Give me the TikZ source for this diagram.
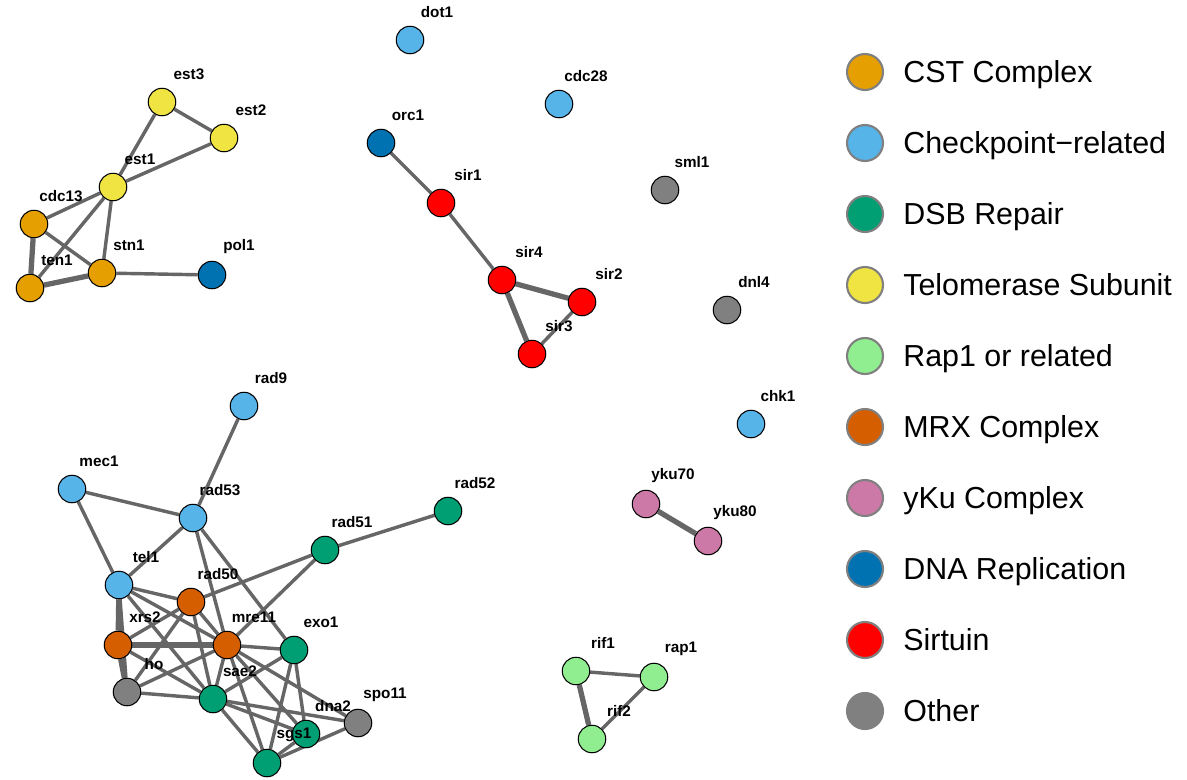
\documentclass[tikz,border=0pt]{standalone}
\usepackage{fontspec}
\setmainfont{Liberation Sans}
\usetikzlibrary{backgrounds}

\definecolor{cstcol}{HTML}{E69F00}
\definecolor{chkcol}{HTML}{56B4E9}
\definecolor{dsbcol}{HTML}{009E73}
\definecolor{telcol}{HTML}{F0E442}
\definecolor{rapcol}{HTML}{90EE90}
\definecolor{mrxcol}{HTML}{D55E00}
\definecolor{kucol}{HTML}{CC79A7}
\definecolor{repcol}{HTML}{0072B2}
\definecolor{sircol}{HTML}{FF0000}
\definecolor{othcol}{HTML}{808080}
\definecolor{edgecol}{HTML}{666666}

\begin{document}
\begin{tikzpicture}[
    x=0.02cm, y=-0.02cm,
    gene/.style={circle, draw=black, line width=0.6pt, minimum size=0.55cm, inner sep=0pt},
    cst/.style={gene, fill=cstcol},
    chk/.style={gene, fill=chkcol},
    dsb/.style={gene, fill=dsbcol},
    tel/.style={gene, fill=telcol},
    rap/.style={gene, fill=rapcol},
    mrx/.style={gene, fill=mrxcol},
    ku/.style={gene, fill=kucol},
    rep/.style={gene, fill=repcol},
    sir/.style={gene, fill=sircol},
    oth/.style={gene, fill=othcol},
    lbl/.style={font=\fontsize{8.7}{10}\selectfont\bfseries, inner sep=0pt},
    edge/.style={draw=edgecol, line width=1.95pt},
    heavy/.style={edge, line width=3pt},
    legdot/.style={circle, draw=gray, line width=1.2pt, minimum size=0.72cm, inner sep=0pt},
    legtext/.style={anchor=base west, font=\fontsize{17.3}{20}\selectfont, inner sep=0pt}
]
    \useasboundingbox (0,0) rectangle (1187,779);

    % Telomerase / CST
    \node[tel] (est3) at (162,102) {};
    \node[tel] (est2) at (224,138) {};
    \node[tel] (est1) at (113,187) {};
    \node[cst] (cdc13) at (34,224) {};
    \node[cst] (ten1) at (30,288) {};
    \node[cst] (stn1) at (102,273) {};
    \node[rep] (pol1) at (212,275) {};

    % Sirtuins
    \node[chk] (dot1) at (410,40) {};
    \node[chk] (cdc28) at (559,104) {};
    \node[rep] (orc1) at (381,143) {};
    \node[sir] (sir1) at (441,203) {};
    \node[sir] (sir4) at (502,280) {};
    \node[sir] (sir2) at (582,302) {};
    \node[sir] (sir3) at (532,354) {};

    % Single genes
    \node[oth] (sml1) at (665,190) {};
    \node[oth] (dnl4) at (727,310) {};
    \node[chk] (chk1) at (751,424) {};

    % yKu and Rap1
    \node[ku] (yku70) at (646,504) {};
    \node[ku] (yku80) at (708,541) {};
    \node[rap] (rif1) at (576,671) {};
    \node[rap] (rap1) at (654,677) {};
    \node[rap] (rif2) at (592,739) {};

    % DSB cluster
    \node[chk] (rad9) at (244,406) {};
    \node[chk] (mec1) at (72,489) {};
    \node[chk] (rad53) at (193,518) {};
    \node[dsb] (rad52) at (448,511) {};
    \node[dsb] (rad51) at (325,550) {};
    \node[chk] (tel1) at (119,585) {};
    \node[mrx] (rad50) at (191,602) {};
    \node[mrx] (xrs2) at (118,645) {};
    \node[mrx] (mre11) at (227,645) {};
    \node[dsb] (exo1) at (294,650) {};
    \node[oth] (ho) at (127,692) {};
    \node[dsb] (sae2) at (213,699) {};
    \node[oth] (spo11) at (358,723) {};
    \node[dsb] (dna2) at (306,734) {};
    \node[dsb] (sgs1) at (267,763) {};

    % Labels
    \foreach \g in {est3,est2,est1,cdc13,ten1,stn1,pol1,dot1,cdc28,orc1,sir1,sir4,sir2,sir3,sml1,dnl4,chk1,yku70,yku80,rif1,rap1,rif2,rad9,mec1,rad53,rad52,rad51,tel1,rad50,xrs2,mre11,exo1,ho,sae2,spo11,dna2,sgs1}
        \node[lbl] (\g-l) at ([shift={(27,-28)}]\g) {\g};

    \begin{scope}[on background layer]
    \fill[white] (0,0) rectangle (1187,779);
    % Edges telomerase
    \draw[edge] (est3) -- (est2);
    \draw[edge] (est3) -- (est1);
    \draw[edge] (est2) -- (est1);
    \draw[edge] (est1) -- (cdc13);
    \draw[edge] (est1) -- (ten1);
    \draw[edge] (est1) -- (stn1);
    \draw[heavy] (cdc13) -- (ten1);
    \draw[edge] (cdc13) -- (stn1);
    \draw[heavy] (ten1) -- (stn1);
    \draw[edge] (stn1) -- (pol1);

    % Edges sirtuins
    \draw[edge] (orc1) -- (sir1);
    \draw[edge] (sir1) -- (sir4);
    \draw[heavy] (sir4) -- (sir2);
    \draw[heavy] (sir4) -- (sir3);
    \draw[edge] (sir2) -- (sir3);

    % Edges yKu and Rap1
    \draw[heavy] (yku70) -- (yku80);
    \draw[edge] (rif1) -- (rap1);
    \draw[heavy] (rif1) -- (rif2);
    \draw[edge] (rap1) -- (rif2);

    % Edges DSB cluster
    \draw[edge] (rad9) -- (rad53);
    \draw[edge] (mec1) -- (rad53);
    \draw[edge] (mec1) -- (tel1);
    \draw[edge] (rad53) -- (tel1);
    \draw[edge] (rad53) -- (mre11);
    \draw[edge] (rad53) -- (exo1);
    \draw[edge] (rad51) -- (rad52);
    \draw[edge] (rad51) -- (rad50);
    \draw[edge] (rad51) -- (mre11);
    \draw[edge] (tel1) -- (rad50);
    \draw[heavy] (tel1) -- (xrs2);
    \draw[edge] (tel1) -- (ho);
    \draw[edge] (tel1) -- (mre11);
    \draw[edge] (tel1) -- (sae2);
    \draw[edge] (xrs2) -- (rad50);
    \draw[heavy] (xrs2) -- (mre11);
    \draw[heavy] (xrs2) -- (ho);
    \draw[edge] (xrs2) -- (sae2);
    \draw[edge] (rad50) -- (mre11);
    \draw[edge] (rad50) -- (ho);
    \draw[edge] (rad50) -- (sae2);
    \draw[edge] (mre11) -- (exo1);
    \draw[edge] (mre11) -- (ho);
    \draw[edge] (mre11) -- (sae2);
    \draw[edge] (mre11) -- (sgs1);
    \draw[edge] (mre11) -- (dna2);
    \draw[edge] (mre11) -- (spo11);
    \draw[edge] (exo1) -- (sae2);
    \draw[edge] (exo1) -- (sgs1);
    \draw[edge] (exo1) -- (dna2);
    \draw[edge] (sae2) -- (ho);
    \draw[edge] (sae2) -- (sgs1);
    \draw[edge] (sae2) -- (dna2);
    \draw[edge] (sae2) -- (spo11);
    \draw[edge] (sgs1) -- (dna2);
    \draw[edge] (sgs1) -- (spo11);
    \end{scope}

    % Legend
    \foreach \c/\t [count=\i from 0] in {cstcol/CST Complex, chkcol/Checkpoint−related, dsbcol/DSB Repair, telcol/Telomerase Subunit, rapcol/Rap1 or related, mrxcol/MRX Complex, kucol/yKu Complex, repcol/DNA Replication, sircol/Sirtuin, othcol/Other} {
        \node[legdot, fill=\c] (leg\i) at (865,72+71*\i) {};
        \node[legtext] (legt\i) at (903,82.5+71*\i) {\t};
    }
\end{tikzpicture}
\end{document}
